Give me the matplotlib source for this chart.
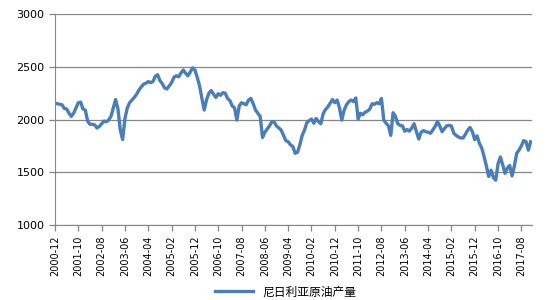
import matplotlib
matplotlib.use("Agg")
import matplotlib.pyplot as plt
import pandas as pd

plt.rcParams['font.family'] = ['Noto Sans CJK SC', 'DejaVu Sans']

# monthly output, 2000-12 .. 2017-12
months = pd.date_range("2000-12", periods=205, freq="MS").strftime("%Y-%m").tolist()
produccion = [
    2155, 2150, 2145, 2140, 2105, 2100, 2060, 2030, 2060, 2110,
    2160, 2165, 2100, 2090, 1985, 1955, 1955, 1950, 1920, 1935,
    1960, 1985, 1980, 1995, 2030, 2110, 2190, 2100, 1900, 1810,
    2010, 2110, 2160, 2185, 2210, 2240, 2280, 2310, 2335, 2345,
    2360, 2350, 2360, 2410, 2425, 2370, 2340, 2300, 2290, 2320,
    2350, 2400, 2415, 2405, 2440, 2470, 2440, 2415, 2450, 2490,
    2470, 2400, 2320, 2200, 2090, 2190, 2250, 2275, 2240, 2210,
    2245, 2230, 2255, 2250, 2200, 2180, 2130, 2110, 1995, 2130,
    2160, 2150, 2140, 2185, 2200, 2150, 2090, 2060, 2030, 1830,
    1880, 1910, 1940, 1980, 1975, 1940, 1920, 1900, 1850, 1800,
    1790, 1760, 1745, 1680, 1690, 1760, 1850, 1900, 1970, 1990,
    2005, 1965, 2010, 1980, 1960, 2055, 2095, 2120, 2155, 2190,
    2160, 2185, 2110, 1995, 2090, 2140, 2170, 2185, 2170, 2205,
    2005, 2060, 2045, 2070, 2080, 2100, 2150, 2145, 2160, 2150,
    2200, 1995, 1965, 1940, 1850, 2065, 2030, 1960, 1945, 1940,
    1890, 1905, 1890, 1920, 1960, 1885, 1815, 1880, 1895, 1885,
    1880, 1870, 1900, 1935, 1980, 1940, 1885, 1915, 1940, 1945,
    1940, 1870, 1850, 1835, 1825, 1825, 1860, 1900, 1925, 1885,
    1810, 1845, 1775, 1730, 1650, 1560, 1460, 1520, 1450, 1425,
    1580, 1645, 1570, 1490, 1540, 1565, 1465, 1560, 1680, 1710,
    1750, 1800, 1790, 1710, 1790,
]
yticks = [1000, 1500, 2000, 2500, 3000]

fig = plt.figure(figsize=(5.5, 3), dpi=100)
ax = fig.add_axes([0.1, 0.25, 0.867, 0.703])

x = list(range(len(months)))
ax.plot(x, produccion, color="#4a7ebb", lw=2.4, label="尼日利亚原油产量")

ax.set_ylim(1000, 3000)
ax.set_yticks(yticks)
ax.set_xlim(0, len(months) - 0.5)
ax.set_xticks(x[::10])
ax.set_xticklabels(months[::10], rotation=90, fontsize=7, family="DejaVu Sans")
for t in ax.get_yticklabels():
    t.set_fontsize(8)
    t.set_family("DejaVu Sans")

ax.grid(axis="y", color="#868686", lw=0.9)
ax.set_axisbelow(True)
for s in ["top", "right"]:
    ax.spines[s].set_visible(False)
for s in ["left", "bottom"]:
    ax.spines[s].set_color("#868686")
ax.tick_params(axis="both", color="#868686", length=4, width=0.9)

fig.legend(loc="lower center", bbox_to_anchor=(0.52, -0.03), frameon=False,
           fontsize=8.5, handlelength=3.2)

fig.savefig("out.png", dpi=100)
